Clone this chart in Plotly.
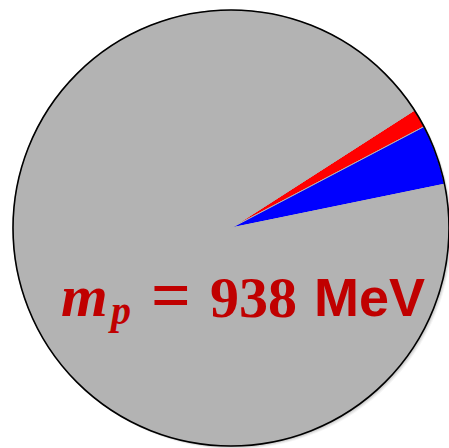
import plotly.graph_objects as go

# Proton mass budget (MeV), drawn clockwise starting with the small contributions
labels = ["quark masses", "sigma term", "rest"]
values = [13, 42, 883]
colors = ["#ff0000", "#0000ff", "#b3b3b3"]
mass_value = "938"
mass_unit = "MeV"

W, H = 449, 448
# pie disc placement in pixels (left, top, diameter)
left, top, diam = 13, 10, 436
dx0, dx1 = left / W, (left + diam) / W
dy1, dy0 = 1 - top / H, 1 - (top + diam) / H

fig = go.Figure(go.Pie(
    labels=labels,
    values=values,
    sort=False,
    direction="clockwise",
    rotation=57.3,
    marker=dict(colors=colors, line=dict(color="#b3b3b3", width=1)),
    textinfo="none",
    hoverinfo="label+value",
    domain=dict(x=[dx0, dx1], y=[dy0, dy1]),
    showlegend=False,
))

shapes = []
# soft drop shadow
for i, op in enumerate([0.10, 0.08, 0.06, 0.04]):
    off = (i + 1) * 0.8
    shapes.append(dict(
        type="circle", xref="paper", yref="paper", layer="below",
        x0=dx0 + off / W, x1=dx1 + off / W,
        y0=dy0 - off / H, y1=dy1 - off / H,
        line=dict(width=0), fillcolor=f"rgba(0,0,0,{op})",
    ))
# black outline around the disc
shapes.append(dict(
    type="circle", xref="paper", yref="paper", layer="above",
    x0=dx0, x1=dx1, y0=dy0, y1=dy1,
    line=dict(color="black", width=1.6), fillcolor="rgba(0,0,0,0)",
))

red = "#c00000"
serif = "Liberation Serif"
sans = "Liberation Sans"


def label(text, xpix, ypix, family, size, anchor="center"):
    return dict(
        text=text, xref="paper", yref="paper",
        x=xpix / W, y=1 - ypix / H, xanchor=anchor, yanchor="middle",
        showarrow=False, font=dict(size=size, color=red, family=family),
    )


annotations = [
    label("<b><i>m</i></b>", 84, 296, serif, 60),
    label("<b><i>p</i></b>", 119, 310, serif, 40),
    label("<b>=</b>", 171, 295, serif, 70),
    label("<b>" + mass_value + "</b>", 253, 297, serif, 58),
    label("<b>" + mass_unit + "</b>", 369, 297, sans, 54),
]

fig.update_layout(
    width=W, height=H,
    margin=dict(l=0, r=0, t=0, b=0),
    paper_bgcolor="white",
    plot_bgcolor="white",
    shapes=shapes,
    annotations=annotations,
)

fig.write_html("out.html")
